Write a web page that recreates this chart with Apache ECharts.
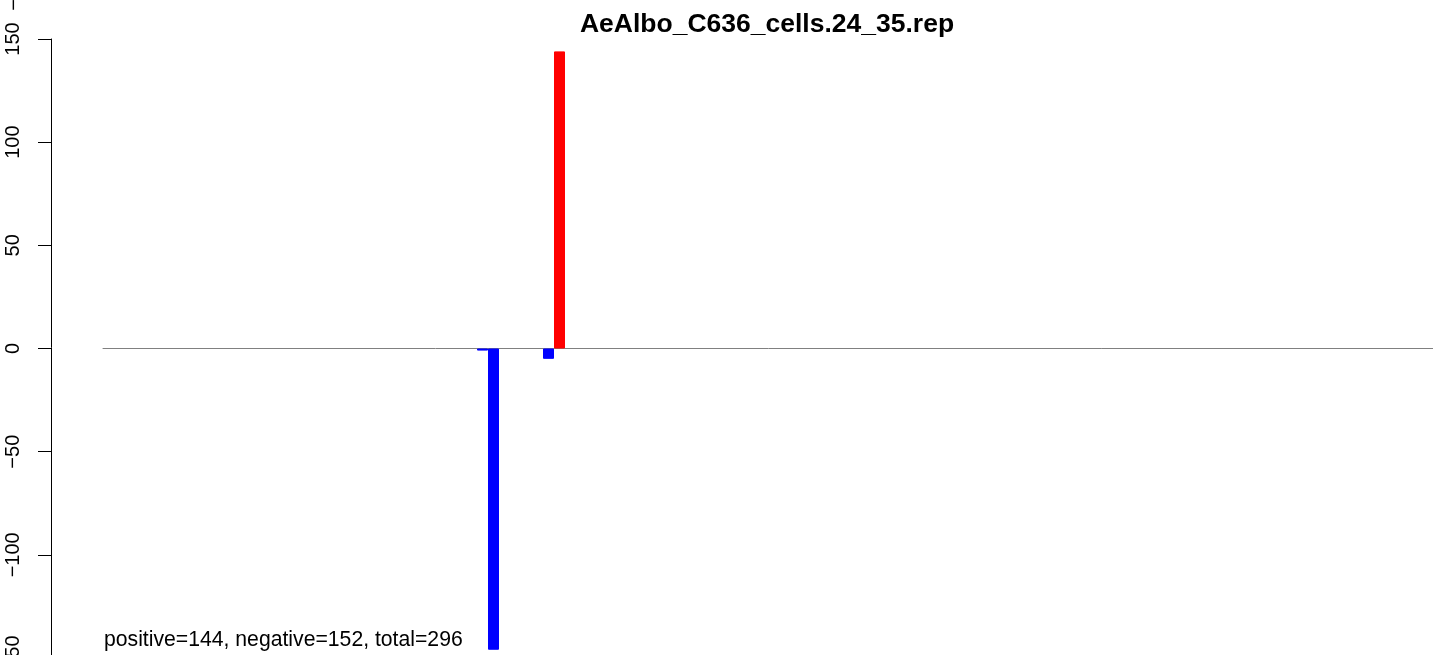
<!DOCTYPE html>
<html>
<head>
<meta charset="utf-8">
<script src="https://cdn.jsdelivr.net/npm/echarts@6/dist/echarts.min.js"></script>
<style>
  html, body { margin: 0; padding: 0; background: #ffffff; }
  #chart { width: 1433px; height: 655px; }
</style>
</head>
<body>
<div id="chart"></div>
<script>
// Chart data
var titleText = 'AeAlbo_C636_cells.24_35.rep';
var slotCount = 121;
var negativeSlots = [35, 36, 41];
var negativeValues = [-1, -146, -5];
var positiveSlots = [42];
var positiveValues = [144];
var yTicks = { min: -150, max: 150, interval: 50 };
var summaryText = 'positive=144, negative=152, total=296';

// Build full per-slot arrays (empty slots stay '-', so nothing is drawn there)
var categories = [];
var positiveData = [];
var negativeData = [];
for (var i = 1; i <= slotCount; i++) {
  categories.push(String(i));
  positiveData.push('-');
  negativeData.push('-');
}
negativeSlots.forEach(function (s, k) { negativeData[s - 1] = negativeValues[k]; });
positiveSlots.forEach(function (s, k) { positiveData[s - 1] = positiveValues[k]; });

var chart = echarts.init(document.getElementById('chart'));

var option = {
  backgroundColor: '#ffffff',
  animation: false,
  title: {
    text: titleText,
    left: 762,
    top: 6,
    textAlign: 'center',
    textStyle: { fontFamily: 'Liberation Sans', fontWeight: 'bold', fontSize: 26.5, color: '#000' }
  },
  grid: { left: 103, right: -1, top: 39, bottom: -3, containLabel: false, outerBoundsMode: 'none' },
  xAxis: {
    type: 'category',
    data: categories,
    axisLine: { onZero: true, lineStyle: { color: '#808080', width: 1 } },
    axisTick: { show: false },
    axisLabel: { show: false },
    splitLine: { show: false }
  },
  yAxis: {
    type: 'value',
    min: yTicks.min,
    max: yTicks.max,
    interval: yTicks.interval,
    offset: 52,
    axisLine: { show: true, onZero: false, lineStyle: { color: '#000', width: 1 } },
    axisTick: { show: true, length: 13, lineStyle: { color: '#000', width: 1 } },
    axisLabel: {
      rotate: 90,
      margin: 28,
      fontFamily: 'Liberation Sans',
      fontSize: 20,
      color: '#000',
      formatter: function (v) { return v < 0 ? '\u2212' + Math.abs(v) : String(v); }
    },
    splitLine: { show: false }
  },
  series: [
    {
      name: 'negative',
      type: 'bar',
      stack: 'strand',
      barCategoryGap: '0%',
      data: negativeData,
      itemStyle: { color: '#0000ff', borderColor: '#0000ff', borderWidth: 1 }
    },
    {
      name: 'positive',
      type: 'bar',
      stack: 'strand',
      barCategoryGap: '0%',
      data: positiveData,
      itemStyle: { color: '#ff0000', borderColor: '#ff0000', borderWidth: 1 }
    }
  ],
  graphic: [
    {
      type: 'text',
      left: 104,
      top: 630,
      style: { text: summaryText, fontFamily: 'Liberation Sans', fontSize: 21.2, fill: '#000' }
    },
    {
      type: 'text',
      x: 24,
      y: 5,
      rotation: Math.PI / 2,
      style: { text: '\u2212', fontFamily: 'Liberation Sans', fontSize: 20, fill: '#000', align: 'center', verticalAlign: 'bottom' }
    }
  ]
};

chart.setOption(option);

window.addEventListener('resize', function () {
  chart.resize();
});
</script>
</body>
</html>
